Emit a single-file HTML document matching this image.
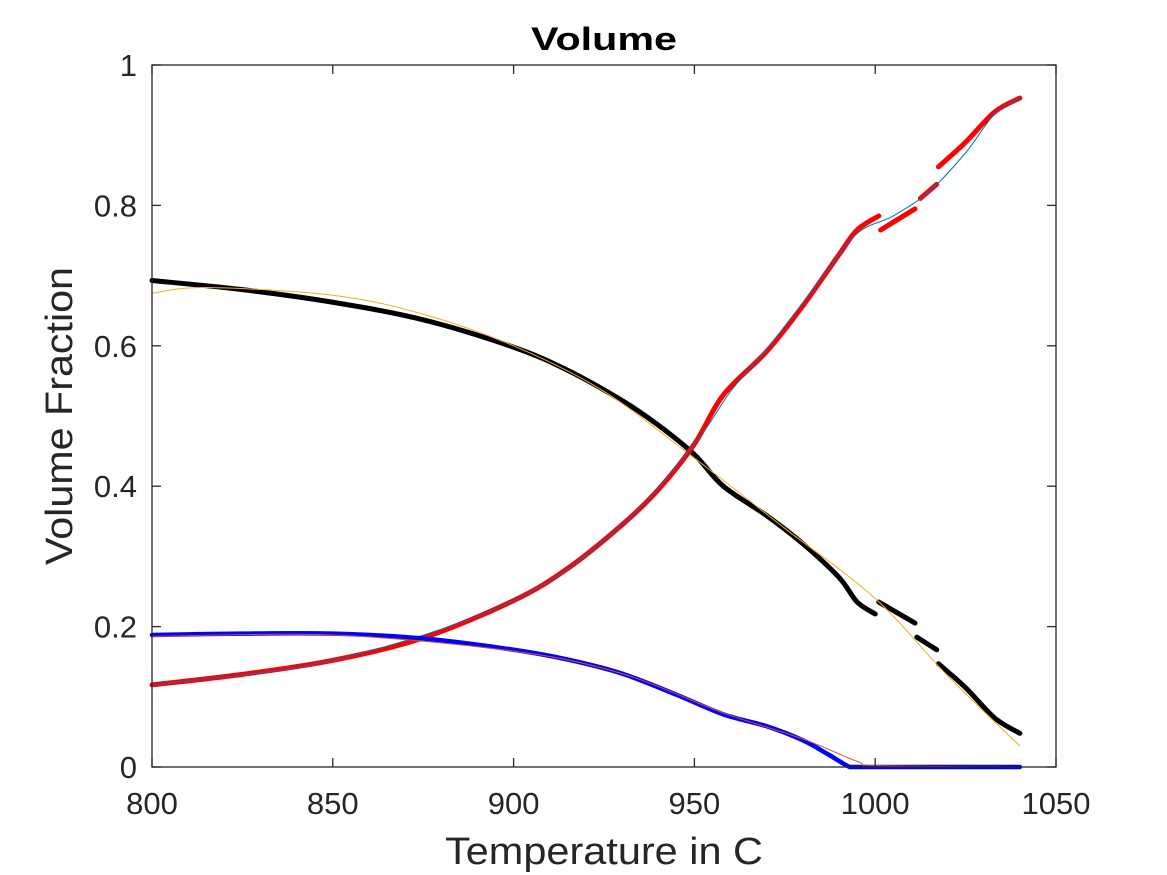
<!DOCTYPE html>
<html><head><meta charset="utf-8"><style>
body{margin:0;background:#fff;}
svg{display:block;font-family:"Liberation Sans",sans-serif;}
</style></head><body>
<svg width="1167" height="875">
<rect width="1167" height="875" fill="#fff"/>
<g id="plot"></g>
<g id="axes"></g>
<text x="604" y="50" text-anchor="middle" font-size="32" font-weight="bold" textLength="146" lengthAdjust="spacingAndGlyphs">Volume</text>
<text x="604" y="864" text-anchor="middle" font-size="38" fill="#262626" textLength="318" lengthAdjust="spacingAndGlyphs">Temperature in C</text>
<text transform="translate(72,416) rotate(-90)" text-anchor="middle" font-size="38" fill="#262626" textLength="298" lengthAdjust="spacingAndGlyphs">Volume Fraction</text>
</svg>
<script>
const xTicks=[800,850,900,950,1000,1050];
const yTicks=[0,0.2,0.4,0.6,0.8,1];
const yTickLabels=["0","0.2","0.4","0.6","0.8","1"];
const blackSegs=[
 [[800,.693],[825,.68],[850,.662],[875,.637],[900,.598],[915,.565],[930,.522],[940,.487],[950,.445],[958,.40],[970,.358],[980,.318],[990,.27],[995,.235],[1000,.218]],
 [[1001,.235],[1011,.205]],
 [[1011.5,.185],[1017,.167]],
 [[1017.5,.147],[1025,.113],[1033,.070],[1040,.048]]];
const redSegs=[
 [[800,.117],[825,.132],[850,.152],[875,.184],[900,.237],[915,.283],[930,.345],[940,.395],[950,.46],[958,.53],[970,.592],[980,.657],[990,.73],[995,.765],[1001,.785]],
 [[1001.5,.765],[1011,.795]],
 [[1012.5,.81],[1017,.83]],
 [[1017.5,.855],[1025,.89],[1033,.933],[1040,.953]]];
const blueThin=[[800,.117],[850,.152],[900,.237],[930,.345],[950,.46],[960,.535],[970,.595],[985,.695],[995,.76],[1005,.785],[1015,.82],[1025,.875],[1033,.93],[1040,.953]];
const orangeThin=[[800,.675],[815,.683],[850,.672],[875,.645],[900,.60],[925,.535],[950,.44],[975,.34],[1000,.24],[1020,.13],[1040,.03]];
const blueThick=[[800,.188],[825,.19],[850,.19],[875,.183],[900,.167],[915,.153],[930,.133],[945,.103],[958,.075],[970,.058],[980,.038],[987,.018],[993,.0],[996,.0],[1010,.0],[1040,.0]];
const orangeLow=[[800,.186],[850,.188],[900,.165],[930,.133],[958,.077],[980,.04],[995,.008],[1001,.002],[1040,.0]];
const L=152,R=1056,T=65,B=767;
const xs=v=>L+(v-800)/250*(R-L);
const ys=v=>B-v*(B-T);
const NS="http://www.w3.org/2000/svg";
const plot=document.getElementById('plot'),axes=document.getElementById('axes');
function smooth(pts){
 const P=pts.map(d=>[xs(d[0]),ys(d[1])]);
 let s='M'+P[0][0]+','+P[0][1];
 for(let i=0;i<P.length-1;i++){
  const p0=P[Math.max(0,i-1)],p1=P[i],p2=P[i+1],p3=P[Math.min(P.length-1,i+2)];
  const c1=[p1[0]+(p2[0]-p0[0])/6,Math.min(B,p1[1]+(p2[1]-p0[1])/6)];
  const c2=[p2[0]-(p3[0]-p1[0])/6,Math.min(B,p2[1]-(p3[1]-p1[1])/6)];
  s+=' C'+c1[0]+','+c1[1]+' '+c2[0]+','+c2[1]+' '+p2[0]+','+p2[1];
 }
 return s;
}
function line(pts,color,w,name){
 const p=document.createElementNS(NS,'path');
 p.setAttribute('d',smooth(pts));
 p.setAttribute('fill','none');p.setAttribute('stroke',color);p.setAttribute('stroke-width',w);
 p.setAttribute('stroke-linecap','round');p.setAttribute('stroke-linejoin','round');
 
 
 plot.appendChild(p);
}
blackSegs.forEach(s=>line(s,'#000',5,'black-series'));
line(orangeThin,'#EDB120',1,'orange-fit-line');
redSegs.forEach(s=>line(s,'#f00',5,'red-series'));
line(blueThin,'#0072BD',1,'blue-fit-line');
line(blueThick,'#00f',4.5,'blue-series');
line(orangeLow,'#D95319',1,'orange-low-fit-line');
const box=document.createElementNS(NS,'rect');
box.setAttribute('x',L);box.setAttribute('y',T);box.setAttribute('width',R-L);box.setAttribute('height',B-T);
box.setAttribute('fill','none');box.setAttribute('stroke','#262626');box.setAttribute('stroke-width','1.3');


axes.appendChild(box);
function seg(x1,y1,x2,y2){const l=document.createElementNS(NS,'line');l.setAttribute('x1',x1);l.setAttribute('y1',y1);l.setAttribute('x2',x2);l.setAttribute('y2',y2);l.setAttribute('stroke','#262626');l.setAttribute('stroke-width','1.3');


axes.appendChild(l);}
function txt(x,y,s,anchor,name){const t=document.createElementNS(NS,'text');t.setAttribute('x',x);t.setAttribute('y',y);t.setAttribute('text-anchor',anchor);t.setAttribute('font-size','31');t.setAttribute('fill','#262626');t.textContent=s;


axes.appendChild(t);}
xTicks.forEach(v=>{const x=xs(v);seg(x,B,x,B-9);seg(x,T,x,T+9);txt(x,814,String(v),'middle','x-tick-label');});
yTicks.forEach((v,i)=>{const y=ys(v);seg(L,y,L+9,y);seg(R,y,R-9,y);txt(137,y+11,yTickLabels[i],'end','y-tick-label');});
</script>
</body></html>
